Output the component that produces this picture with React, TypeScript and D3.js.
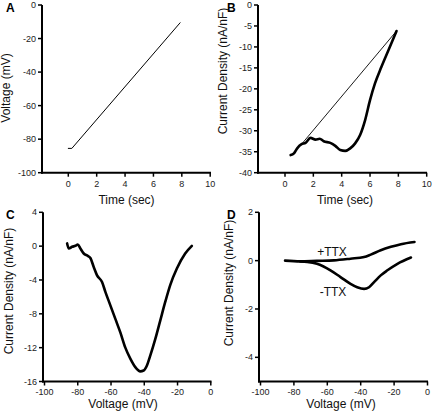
import React from "react";
import * as d3 from "d3";

// Panel A: voltage ramp
const rampTime = [0, 0.25, 7.88];
const rampVoltage = [-85.5, -85.5, -10.6];

// Panel B: current density during ramp
const bTime = [0.4, 0.63, 0.86, 1.17, 1.45, 1.8, 2.15, 2.45, 2.73, 3.2, 3.55, 3.9, 4.25, 4.6, 4.95, 5.3, 5.65, 6.0, 6.35, 6.8, 7.3, 7.87];
const bCurrent = [-35.8, -35.4, -34.2, -33.2, -32.9, -31.7, -32.1, -31.9, -32.5, -32.9, -33.6, -34.6, -34.8, -34.2, -33.0, -31.0, -27.5, -22.7, -18.7, -14.8, -10.8, -6.2];
const bLeakTime = [1.17, 7.87];
const bLeakCurrent = [-33.2, -6.2];

// Panel C: leak-subtracted I-V
const cVoltage = [-86.4, -85.4, -83.4, -81.4, -80, -78.4, -76.4, -74, -72.4, -70.4, -68.4, -65.4, -63.4, -60.4, -57.4, -54.4, -51.4, -48.4, -45.4, -42.4, -40.4, -38.4, -36.4, -33.4, -30.4, -27.4, -24.4, -20.4, -15.4, -11.4];
const cCurrent = [0.32, -0.28, -0.08, 0.04, 0.2, -0.28, -0.87, -1.15, -1.4, -2.46, -3.45, -4.24, -5.4, -7.0, -8.6, -10.2, -12.0, -13.3, -14.3, -14.8, -14.7, -14.1, -12.95, -11.0, -8.8, -6.6, -4.6, -2.65, -0.87, 0.04];

// Panel D: +TTX / -TTX
const dPlusVoltage = [-85.3, -76.3, -66.2, -56.1, -46.1, -38, -34, -28, -21.9, -15.9, -7.8];
const dPlusCurrent = [0.0, -0.03, -0.01, 0.01, 0.08, 0.15, 0.25, 0.43, 0.57, 0.68, 0.77];
const dMinusVoltage = [-76.3, -72, -66.2, -58.1, -52.1, -46.1, -42.1, -38, -35, -32, -28, -24, -18, -9.9];
const dMinusCurrent = [-0.03, -0.05, -0.13, -0.4, -0.68, -0.96, -1.1, -1.17, -1.1, -0.89, -0.61, -0.4, -0.13, 0.13];

const timeTicks = [0, 2, 4, 6, 8, 10];
const voltTicksA = [0, -20, -40, -60, -80, -100];
const currTicksB = [0, -5, -10, -15, -20, -25, -30, -35, -40];
const voltTicksCD = [-100, -80, -60, -40, -20, 0];
const currTicksC = [4, 0, -4, -8, -12, -16];
const currTicksD = [2, 0, -2, -4];

const FONT = "'Liberation Sans', Arial, Helvetica, sans-serif";

type Series = { xs: number[]; ys: number[]; width: number; smooth: boolean };

function Panel(props: {
  letter: string;
  letterX: number;
  letterY: number;
  axisX: number;
  top: number;
  bottom: number;
  right: number;
  xDomain: [number, number];
  xRange: [number, number];
  yDomain: [number, number];
  xTicks: number[];
  yTicks: number[];
  xLabel: string;
  yLabel: string;
  yLabelX: number;
  yLabelY: number;
  xLabelX: number;
  labelBaseY: number;
  xTickBaseY: number;
  series: Series[];
  children?: React.ReactNode;
}) {
  const x = d3.scaleLinear().domain(props.xDomain).range(props.xRange);
  const y = d3.scaleLinear().domain(props.yDomain).range([props.bottom, props.top]);
  const mk = (smooth: boolean) =>
    d3
      .line<[number, number]>()
      .x((d) => x(d[0]))
      .y((d) => y(d[1]))
      .curve(smooth ? d3.curveMonotoneX : d3.curveLinear);
  return (
    <g fontFamily={FONT}>
      <text x={props.letterX} y={props.letterY} fontSize={12} fontWeight="bold" fill="#000">
        {props.letter}
      </text>
      <line x1={props.axisX} x2={props.axisX} y1={props.top} y2={props.bottom + 1} stroke="#000" strokeWidth={2} />
      <line x1={props.axisX - 1} x2={props.right} y1={props.bottom} y2={props.bottom} stroke="#000" strokeWidth={2} />
      {props.yTicks.map((t) => (
        <g key={"y" + t}>
          <line x1={props.axisX - 4} x2={props.axisX} y1={y(t)} y2={y(t)} stroke="#000" strokeWidth={1.5} />
          <text x={props.axisX - 6} y={y(t) + 3} fontSize={9} textAnchor="end" fill="#222">
            {t}
          </text>
        </g>
      ))}
      {props.xTicks.map((t) => (
        <g key={"x" + t}>
          <line x1={x(t)} x2={x(t)} y1={props.bottom} y2={props.bottom + 4} stroke="#000" strokeWidth={1.5} />
          <text x={x(t)} y={props.xTickBaseY} fontSize={9} textAnchor="middle" fill="#222">
            {t}
          </text>
        </g>
      ))}
      <text x={props.xLabelX} y={props.labelBaseY} fontSize={12} textAnchor="middle" fill="#111">
        {props.xLabel}
      </text>
      <text
        transform={`translate(${props.yLabelX},${props.yLabelY}) rotate(-90)`}
        fontSize={12}
        textAnchor="middle"
        fill="#111"
      >
        {props.yLabel}
      </text>
      {props.series.map((s, i) => (
        <path
          key={i}
          d={mk(s.smooth)(s.xs.map((v, j) => [v, s.ys[j]] as [number, number])) || ""}
          fill="none"
          stroke="#000"
          strokeWidth={s.width}
          strokeLinejoin="round"
          strokeLinecap="round"
        />
      ))}
      {props.children}
    </g>
  );
}

export default function App() {
  return (
    <svg width={433} height={418} style={{ position: "absolute", left: 0, top: 0, background: "#fff" }}>
      <rect width={433} height={418} fill="#fff" />
      <Panel
        letter="A"
        letterX={6}
        letterY={12}
        axisX={42}
        top={5}
        bottom={172.7}
        right={211}
        xDomain={[0, 10]}
        xRange={[68.3, 210.2]}
        yDomain={[-100, 0]}
        xTicks={timeTicks}
        yTicks={voltTicksA}
        xLabel="Time (sec)"
        yLabel="Voltage (mV)"
        yLabelX={10}
        yLabelY={88}
        xLabelX={126.5}
        labelBaseY={204}
        xTickBaseY={186.5}
        series={[{ xs: rampTime, ys: rampVoltage, width: 1, smooth: false }]}
      />
      <Panel
        letter="B"
        letterX={227}
        letterY={12}
        axisX={258}
        top={5}
        bottom={172.7}
        right={427}
        xDomain={[0, 10]}
        xRange={[285, 426.7]}
        yDomain={[-40, 0]}
        xTicks={timeTicks}
        yTicks={currTicksB}
        xLabel="Time (sec)"
        yLabel="Current Density (nA/nF)"
        yLabelX={227}
        yLabelY={71}
        xLabelX={345}
        labelBaseY={204}
        xTickBaseY={186.5}
        series={[
          { xs: bTime, ys: bCurrent, width: 2.6, smooth: true },
          { xs: bLeakTime, ys: bLeakCurrent, width: 0.9, smooth: false },
        ]}
      />
      <Panel
        letter="C"
        letterX={6}
        letterY={219}
        axisX={43}
        top={212.3}
        bottom={381.5}
        right={211.5}
        xDomain={[-100, 0]}
        xRange={[44.5, 210.8]}
        yDomain={[-16, 4]}
        xTicks={voltTicksCD}
        yTicks={currTicksC}
        xLabel="Voltage (mV)"
        yLabel="Current Density (nA/nF)"
        yLabelX={13}
        yLabelY={291}
        xLabelX={123}
        labelBaseY={408}
        xTickBaseY={394.5}
        series={[{ xs: cVoltage, ys: cCurrent, width: 2.6, smooth: true }]}
      />
      <Panel
        letter="D"
        letterX={227}
        letterY={219}
        axisX={259}
        top={212.3}
        bottom={381.5}
        right={428}
        xDomain={[-100, 0]}
        xRange={[260.5, 427.5]}
        yDomain={[-5, 2]}
        xTicks={voltTicksCD}
        yTicks={currTicksD}
        xLabel="Voltage (mV)"
        yLabel="Current Density (nA/nF)"
        yLabelX={233}
        yLabelY={283}
        xLabelX={341}
        labelBaseY={408}
        xTickBaseY={394.5}
        series={[
          { xs: dPlusVoltage, ys: dPlusCurrent, width: 2.6, smooth: true },
          { xs: dMinusVoltage, ys: dMinusCurrent, width: 2.6, smooth: true },
        ]}
      >
        <text x={332} y={256} fontSize={12} textAnchor="middle" fill="#111" fontFamily={FONT}>
          +TTX
        </text>
        <text x={333} y={296} fontSize={12} textAnchor="middle" fill="#111" fontFamily={FONT}>
          -TTX
        </text>
      </Panel>
    </svg>
  );
}
